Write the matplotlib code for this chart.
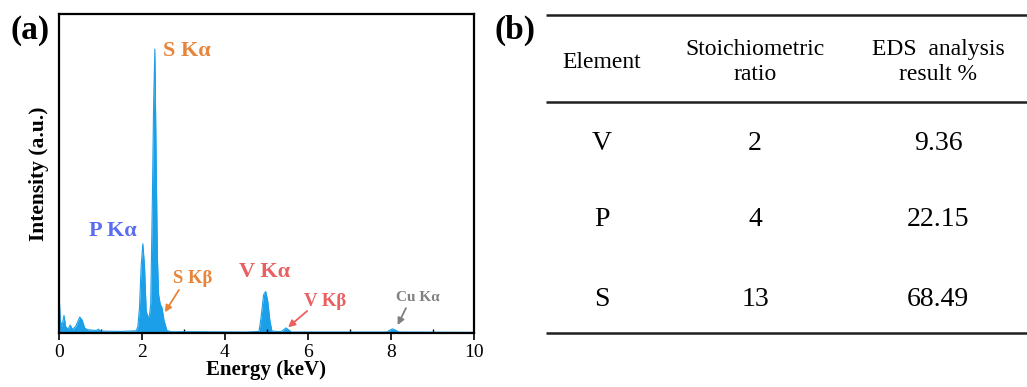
import matplotlib
matplotlib.use("Agg")
import matplotlib.pyplot as plt
from matplotlib.ticker import MultipleLocator
import numpy as np

# ---------------- data ----------------
energy = [0.0, 0.03, 0.07, 0.12, 0.16, 0.22, 0.27, 0.32, 0.40, 0.50, 0.56, 0.62,
          0.70, 0.90, 0.95, 1.00, 1.50, 1.86, 1.90, 1.94, 1.98, 2.02, 2.06, 2.10,
          2.14, 2.18, 2.21, 2.25, 2.28, 2.31, 2.34, 2.37, 2.40, 2.44, 2.48, 2.53,
          2.60, 2.70, 3.30, 4.50, 4.82, 4.87, 4.93, 4.98, 5.03, 5.08, 5.13, 5.35,
          5.41, 5.47, 5.53, 5.60, 7.90, 7.97, 8.04, 8.12, 8.20, 10.0]
intensity = [0.13, 0.04, 0.02, 0.055, 0.02, 0.012, 0.025, 0.012, 0.02, 0.05, 0.04, 0.015,
             0.010, 0.008, 0.012, 0.006, 0.005, 0.007, 0.02, 0.08, 0.21, 0.28, 0.21, 0.07,
             0.05, 0.055, 0.09, 0.42, 0.72, 0.89, 0.55, 0.24, 0.12, 0.09, 0.08, 0.04,
             0.008, 0.004, 0.004, 0.003, 0.005, 0.05, 0.12, 0.13, 0.10, 0.04, 0.006, 0.004,
             0.010, 0.016, 0.010, 0.003, 0.003, 0.009, 0.013, 0.008, 0.003, 0.002]

x_ticks = [0, 2, 4, 6, 8, 10]

col_headers = ["Element", "Stoichiometric\nratio", "EDS  analysis\nresult %"]
elements = ["V", "P", "S"]
stoich = ["2", "4", "13"]
eds_result = ["9.36", "22.15", "68.49"]

# ---------------- figure ----------------
plt.rcParams['font.family'] = ['Liberation Serif', 'DejaVu Serif']
W, H = 1027, 387
fig = plt.figure(figsize=(W / 100, H / 100), dpi=100)

def px_axes(x0, y0, x1, y1):
    return fig.add_axes([x0 / W, 1 - y1 / H, (x1 - x0) / W, (y1 - y0) / H])

ax = px_axes(59, 14, 474, 333)
blue = '#1a9fe8'
ax.fill_between(energy, 0, intensity, color=blue, lw=0)
ax.plot(energy, intensity, color=blue, lw=0.8)
ax.set_xlim(0, 10)
ax.set_ylim(0, 1)
ax.set_xticks(x_ticks)
ax.xaxis.set_minor_locator(MultipleLocator(1))
ax.tick_params(axis='x', which='major', direction='out', length=5, width=1.2,
               labelsize=14, pad=3)
ax.tick_params(axis='x', which='minor', direction='in', length=3, width=1.0)
ax.set_yticks([])
for s in ax.spines.values():
    s.set_linewidth(1.6)
ax.set_xlabel("Energy (keV)", fontsize=15, fontweight='bold', labelpad=-1)
ax.set_ylabel("Intensity (a.u.)", fontsize=15.5, fontweight='bold', labelpad=7)

orange = '#e8843a'
pblue = '#5a6cf2'
red = '#ea5f5f'
gray = '#808080'
ax.text(2.5, 0.885, "S K\u03b1", color=orange, fontsize=16, fontweight='bold', va='center')
ax.text(0.72, 0.32, "P K\u03b1", color=pblue, fontsize=16, fontweight='bold', va='center')
ax.text(2.75, 0.17, "S K\u03b2", color=orange, fontsize=13.5, fontweight='bold', va='center')
ax.text(4.33, 0.19, "V K\u03b1", color=red, fontsize=16, fontweight='bold', va='center')
ax.text(5.9, 0.10, "V K\u03b2", color=red, fontsize=13.5, fontweight='bold', va='center')
ax.text(8.12, 0.11, "Cu K\u03b1", color=gray, fontsize=11, fontweight='bold', va='center')

def arrow(x0, y0, x1, y1, c):
    ax.annotate("", xy=(x1, y1), xytext=(x0, y0),
                arrowprops=dict(arrowstyle='-|>', color=c, lw=1.3,
                                mutation_scale=10, shrinkA=0, shrinkB=0))

arrow(2.89, 0.135, 2.55, 0.065, orange)
arrow(5.98, 0.069, 5.52, 0.018, red)
arrow(8.36, 0.078, 8.16, 0.025, gray)

fig.text(10 / W, 1 - 30 / H, "(a)", fontsize=24, fontweight='bold', va='center')
fig.text(494 / W, 1 - 30 / H, "(b)", fontsize=24, fontweight='bold', va='center')

# ---------------- table ----------------
tx = px_axes(546, 0, 1027, H)
tx.set_xlim(546, 1027)
tx.set_ylim(H, 0)
tx.axis('off')
for yl in (15, 102, 333):
    tx.plot([546, 1027], [yl, yl], color='#202020', lw=1.8, solid_capstyle='butt')
col_x = [602, 755, 938]
for cx, h in zip(col_x, col_headers):
    tx.text(cx, 62, h, fontsize=17, ha='center', va='center', linespacing=1.3)
row_y = [144, 220, 299]
for ry, e, s_, r in zip(row_y, elements, stoich, eds_result):
    for cx, t in zip(col_x, (e, s_, r)):
        tx.text(cx, ry, t, fontsize=20, ha='center', va='center')

fig.savefig("out.png", dpi=100)
